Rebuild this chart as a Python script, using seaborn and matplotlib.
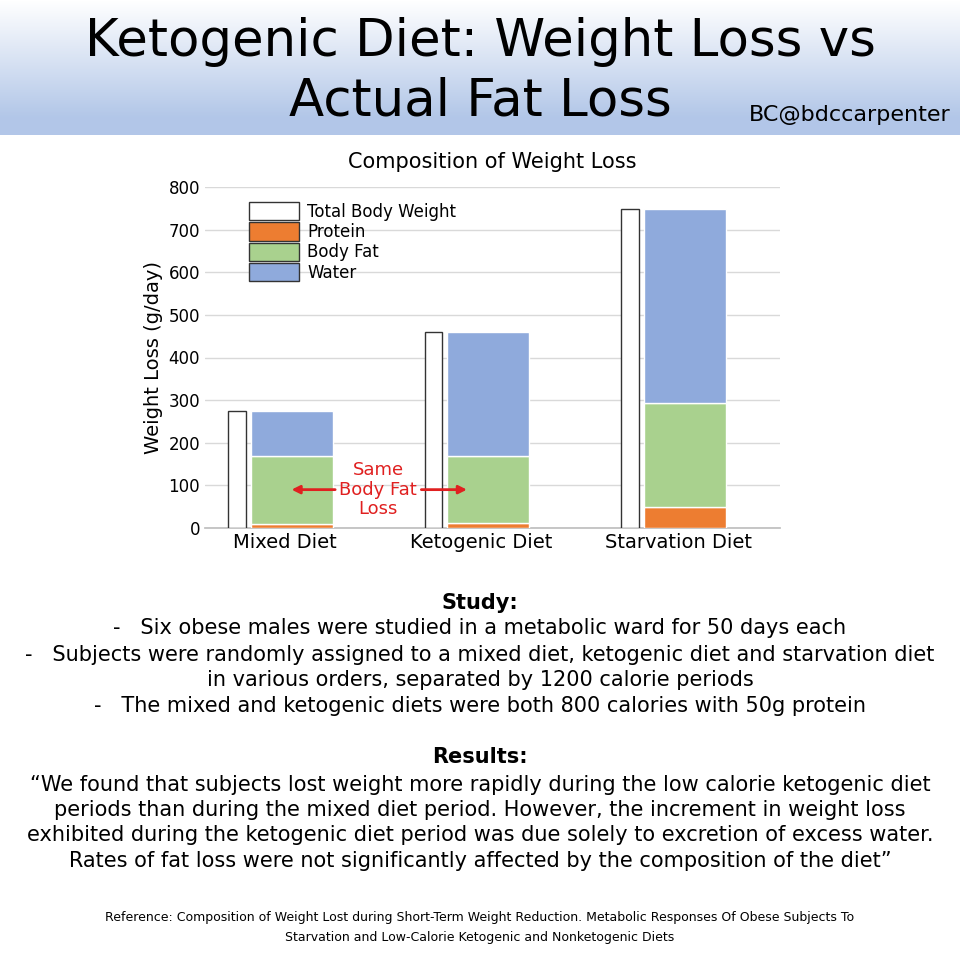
import matplotlib.pyplot as plt
import numpy as np
import seaborn as sns

diets = ["Mixed Diet", "Ketogenic Diet", "Starvation Diet"]
total = [275, 460, 748]
protein = [10, 12, 50]
body_fat = [160, 158, 243]
water = [105, 290, 455]

yticks = [0, 100, 200, 300, 400, 500, 600, 700, 800]

sns.set_theme(style="white")
plt.rcParams["font.family"] = ["DejaVu Sans"]
plt.rcParams["text.color"] = "black"
plt.rcParams["axes.labelcolor"] = "black"
plt.rcParams["xtick.color"] = "black"
plt.rcParams["ytick.color"] = "black"

fig = plt.figure(figsize=(9.6, 9.58), dpi=100)

# header band with gradient
hdr = fig.add_axes([0, 1 - 135 / 958, 1, 135 / 958])
grad = np.linspace(0, 1, 100).reshape(-1, 1)
top = np.array([1.0, 1.0, 1.0])
bot = np.array([0.70, 0.78, 0.91])
img = top + (bot - top) * np.clip(grad * 1.15, 0, 1)[..., None]
hdr.imshow(img, aspect="auto", extent=[0, 1, 0, 1])
hdr.axis("off")
fig.text(0.5, 1 - 42 / 958, "Ketogenic Diet: Weight Loss vs", ha="center", va="center", fontsize=37)
fig.text(0.5, 1 - 101 / 958, "Actual Fat Loss", ha="center", va="center", fontsize=37)
fig.text(0.99, 1 - 115 / 958, "BC@bdccarpenter", ha="right", va="center", fontsize=16)

ax = fig.add_axes([205 / 960, 1 - 528 / 958, 575 / 960, 341 / 958])
x = np.arange(len(diets))
edge = "#333333"
ax.bar(x - 0.244, total, width=0.091, color="white", edgecolor=edge, linewidth=1, label="Total Body Weight", zorder=3)
off = 0.035
w = 0.416
ax.bar(x + off, protein, width=w, color="#ed7d31", label="Protein", zorder=3)
ax.bar(x + off, body_fat, width=w, bottom=protein, color="#a9d18e", label="Body Fat", zorder=3)
ax.bar(x + off, water, width=w, bottom=np.add(protein, body_fat), color="#8faadc", label="Water", zorder=3)

ax.set_xlim(-0.406, 2.518)
ax.set_ylim(0, 800)
ax.set_yticks(yticks)
ax.set_xticks(x)
ax.set_xticklabels(diets, fontsize=14)
ax.tick_params(axis="y", labelsize=12, length=0)
ax.tick_params(axis="x", length=0)
ax.grid(axis="y", color="#d9d9d9", linewidth=1, zorder=0)
for s in ["top", "right", "left"]:
    ax.spines[s].set_visible(False)
ax.spines["bottom"].set_color("#bfbfbf")
ax.set_ylabel("Weight Loss (g/day)", fontsize=14)
ax.set_title("Composition of Weight Loss", fontsize=15, pad=14)
leg = ax.legend(loc="upper left", bbox_to_anchor=(0.05, 1.0), frameon=False, fontsize=12,
                handlelength=3.0, handleheight=1.3, labelspacing=0.1, handletextpad=0.5)
for h in leg.legend_handles:
    h.set_edgecolor(edge)
    h.set_linewidth(1)

ax.annotate("", xy=(0.02, 90), xytext=(0.27, 90),
            arrowprops=dict(arrowstyle="-|>", color="#e02020", lw=2))
ax.annotate("", xy=(0.94, 90), xytext=(0.68, 90),
            arrowprops=dict(arrowstyle="-|>", color="#e02020", lw=2))
ax.text(0.475, 90, "Same\nBody Fat\nLoss", ha="center", va="center", color="#e02020",
        fontsize=13, linespacing=1.1, zorder=4)

body = 15
fig.text(0.5, 1 - 603 / 958, "Study:", ha="center", va="center", fontsize=body, weight="bold")
study = [
    (628, "-   Six obese males were studied in a metabolic ward for 50 days each"),
    (655, "-   Subjects were randomly assigned to a mixed diet, ketogenic diet and starvation diet"),
    (680, "in various orders, separated by 1200 calorie periods"),
    (706, "-   The mixed and ketogenic diets were both 800 calories with 50g protein"),
]
for y, t in study:
    fig.text(0.5, 1 - y / 958, t, ha="center", va="center", fontsize=body)
fig.text(0.5, 1 - 757 / 958, "Results:", ha="center", va="center", fontsize=body, weight="bold")
results = [
    (785, "\u201cWe found that subjects lost weight more rapidly during the low calorie ketogenic diet"),
    (810, "periods than during the mixed diet period. However, the increment in weight loss"),
    (835, "exhibited during the ketogenic diet period was due solely to excretion of excess water."),
    (861, "Rates of fat loss were not significantly affected by the composition of the diet\u201d"),
]
for y, t in results:
    fig.text(0.5, 1 - y / 958, t, ha="center", va="center", fontsize=body)
fig.text(0.5, 1 - 918 / 958, "Reference: Composition of Weight Lost during Short-Term Weight Reduction. Metabolic Responses Of Obese Subjects To",
         ha="center", va="center", fontsize=9)
fig.text(0.5, 1 - 937 / 958, "Starvation and Low-Calorie Ketogenic and Nonketogenic Diets",
         ha="center", va="center", fontsize=9)

fig.savefig("out.png", dpi=100)
